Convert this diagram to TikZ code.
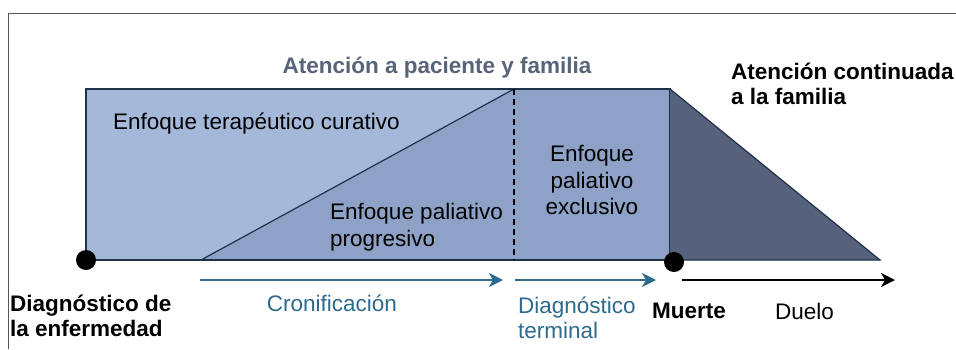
\documentclass[tikz,border=0pt]{standalone}
\usepackage{fontspec}
\setmainfont{Liberation Sans}
\usetikzlibrary{arrows.meta}
\definecolor{lightfill}{HTML}{A4B8D9}
\definecolor{midfill}{HTML}{8DA2C6}
\definecolor{darkfill}{HTML}{56627B}
\definecolor{edgecol}{HTML}{1E3148}
\definecolor{teal}{HTML}{2E6A8C}
\definecolor{titlegray}{HTML}{5A6479}
\definecolor{framegray}{HTML}{555555}
\tikzset{
  lbl/.style={font=\fontsize{22.5}{26}\selectfont, inner sep=0pt},
  blbl/.style={lbl, font=\fontsize{22.5}{25}\selectfont\bfseries},
  dot/.style={circle, fill=black, minimum size=20pt, inner sep=0pt},
  tealarrow/.style={teal, line width=1.5pt, -{Stealth[length=14pt,width=14pt,inset=4pt]}},
  blackarrow/.style={black, line width=1.5pt, -{Stealth[length=14pt,width=14pt,inset=4pt]}},
}
\begin{document}
\begin{tikzpicture}[x=1pt,y=-1pt]
\useasboundingbox (0,0) rectangle (956,349);
\fill[white] (0,0) rectangle (956,349);
% frame
\draw[framegray, line width=0.8pt] (8,349) -- (8,13) -- (956,13);
% main rectangle
\fill[lightfill] (86,89) rectangle (670,260);
\fill[midfill] (201,260) -- (514,89) -- (670,89) -- (670,260) -- cycle;
\draw[edgecol, line width=1.2pt] (86,89) rectangle (670,260);
\draw[edgecol, line width=1.2pt] (201,260) -- (514,89);
\draw[black, line width=1.2pt, dash pattern=on 6pt off 4pt] (514,89) -- (514,260);
% dark trapezoid
\fill[darkfill] (670,89) -- (880,260) -- (670,260) -- cycle;
\draw[edgecol, line width=1.2pt] (670,89) -- (880,260) -- (670,260);
% dots
\node[dot] (d1) at (86,260) {};
\node[dot] (d2) at (674,262) {};
% arrow coordinates
\coordinate (a1s) at (200,280);
\coordinate (a1e) at (503,280);
\coordinate (a2s) at (515,280);
\coordinate (a2e) at (656,280);
\coordinate (a3s) at (682,280);
\coordinate (a3e) at (895,280);
\draw[tealarrow] (a1s) -- (a1e);
\draw[tealarrow] (a2s) -- (a2e);
\draw[blackarrow] (a3s) -- (a3e);
% texts
\node[blbl, text=titlegray] (t1) at (437,68) {Atención a paciente y familia};
\node[blbl, anchor=west, align=left] (t2) at (731,84) {Atención continuada\\a la familia};
\node[lbl, anchor=west] (t3) at (113,124) {Enfoque terapéutico curativo};
\node[lbl, anchor=west, align=left, font=\fontsize{22.5}{27}\selectfont] (t4) at (330,227) {Enfoque paliativo\\progresivo};
\node[lbl, align=center, font=\fontsize{22.5}{26.5}\selectfont] (t5) at (592,180) {Enfoque\\paliativo\\exclusivo};
\node[blbl, anchor=west, align=left] (t6) at (10,316) {Diagnóstico de\\la enfermedad};
\node[lbl, text=teal] (t7) at (332,303) {Cronificación};
\node[lbl, anchor=west, align=left, text=teal, font=\fontsize{22.5}{25}\selectfont] (t8) at (518,318) {Diagnóstico\\terminal};
\node[blbl, anchor=west] (t9) at (652,311) {Muerte};
\node[lbl, anchor=west] (t10) at (775,311) {Duelo};
\end{tikzpicture}
\end{document}
